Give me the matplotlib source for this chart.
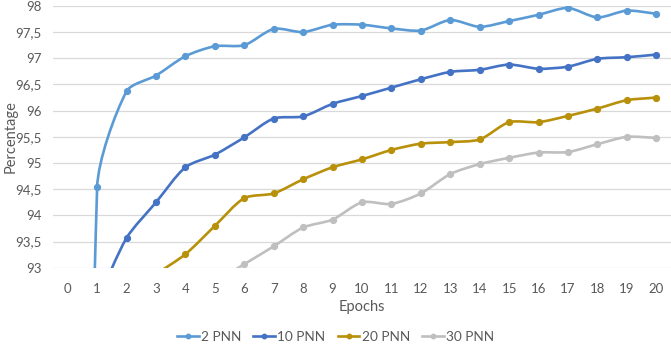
import numpy as np
import matplotlib
matplotlib.use("Agg")
import matplotlib.pyplot as plt
from matplotlib.path import Path
from matplotlib.patches import PathPatch
from matplotlib.ticker import FuncFormatter

plt.rcParams["font.family"] = ["Lato", "DejaVu Sans"]

# accuracy per epoch; first points of each run sit below the visible range
epochs_2 = list(range(0, 21))
acc_2 = [60.0, 94.54, 96.37, 96.67, 97.04, 97.23, 97.25, 97.56, 97.50, 97.64,
         97.64, 97.57, 97.53, 97.73, 97.60, 97.71, 97.83, 97.96, 97.78, 97.91, 97.85]

epochs_10 = list(range(1, 21))
acc_10 = [92.35, 93.57, 94.25, 94.92, 95.16, 95.49, 95.85, 95.89, 96.13, 96.28,
          96.44, 96.60, 96.74, 96.78, 96.88, 96.80, 96.84, 96.99, 97.02, 97.07]

epochs_20 = list(range(3, 21))
acc_20 = [92.88, 93.26, 93.80, 94.33, 94.42, 94.69, 94.92, 95.07, 95.25, 95.37,
          95.40, 95.45, 95.78, 95.78, 95.90, 96.04, 96.20, 96.25]

epochs_30 = list(range(5, 21))
acc_30 = [92.72, 93.07, 93.41, 93.77, 93.92, 94.25, 94.22, 94.42, 94.79, 94.98,
          95.10, 95.20, 95.21, 95.36, 95.50, 95.48]

series = [
    ("2 PNN", epochs_2, acc_2, "#5B9BD5"),
    ("10 PNN", epochs_10, acc_10, "#4472C4"),
    ("20 PNN", epochs_20, acc_20, "#B8900A"),
    ("30 PNN", epochs_30, acc_30, "#BFBFBF"),
]

X_SCALE, Y_SCALE = 29.45, 52.3  # pixels per data unit, keeps curves round on screen
TENSION = 0.26


def smooth_path(x, y):
    pts = np.column_stack([np.asarray(x, float) * X_SCALE, np.asarray(y, float) * Y_SCALE])
    n = len(pts)
    verts = [pts[0]]
    codes = [Path.MOVETO]
    for i in range(n - 1):
        p0 = pts[i - 1] if i > 0 else pts[i]
        p1, p2 = pts[i], pts[i + 1]
        p3 = pts[i + 2] if i + 2 < n else pts[i + 1]
        seg = np.hypot(*(p2 - p1))
        t1 = p2 - p0
        t2 = p3 - p1
        c1 = p1 + t1 / np.hypot(*t1) * seg * TENSION
        c2 = p2 - t2 / np.hypot(*t2) * seg * TENSION
        verts += [c1, c2, p2]
        codes += [Path.CURVE4] * 3
    verts = np.array(verts) / [X_SCALE, Y_SCALE]
    return Path(verts, codes)


fig = plt.figure(figsize=(6.71, 3.46), dpi=100)
ax = fig.add_axes([0.079, 0.226, 0.921, 0.757])

text_color = "#595959"
for name, ep, acc, color in series:
    patch = PathPatch(smooth_path(ep, acc), facecolor="none", edgecolor=color,
                      lw=1.9, capstyle="round", joinstyle="round", zorder=3)
    ax.add_patch(patch)
    ax.plot(ep, acc, linestyle="none", marker="o", markersize=4.2,
            color=color, zorder=4)
    ax.plot([], [], color=color, lw=1.9, marker="o", markersize=3.2, label=name)

ax.set_xlim(-0.5, 20.5)
ax.set_ylim(93, 98)
ax.set_xticks(range(0, 21))
ax.set_yticks(np.arange(93, 98.01, 0.5))
ax.yaxis.set_major_formatter(FuncFormatter(lambda v, p: f"{v:g}".replace(".", ",")))
ax.grid(axis="y", color="#D9D9D9", lw=0.9, zorder=0)
ax.set_axisbelow(True)
for s in ax.spines.values():
    s.set_visible(False)
ax.tick_params(length=0, labelsize=9.5, labelcolor=text_color)
ax.tick_params(axis="x", pad=11)
ax.tick_params(axis="y", pad=8)

ax.set_xlabel("Epochs", fontsize=10.5, color=text_color, va="center")
ax.set_ylabel("Percentage", fontsize=10.5, color=text_color, va="center")
ax.xaxis.set_label_coords(0.5, -0.148)
ax.yaxis.set_label_coords(-0.068, 0.5)

fig.legend(loc="center", bbox_to_anchor=(0.5, 0.026), ncol=4, frameon=False,
           fontsize=9.8, labelcolor=text_color, handlelength=1.6,
           handletextpad=0.15, columnspacing=0.9)

fig.savefig("out.png", dpi=100)
